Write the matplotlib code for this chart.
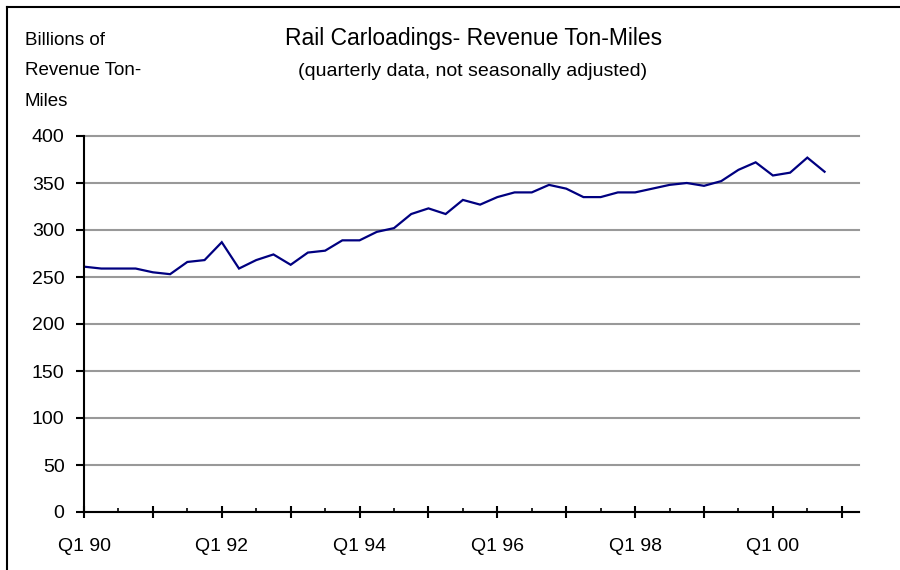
import matplotlib.pyplot as plt
from matplotlib.lines import Line2D
from matplotlib.ticker import FixedLocator

# quarterly revenue ton-miles, Q1 1990 .. Q4 2000 (billions)
values = [261, 259, 259, 259, 255, 253, 266, 268, 287, 259, 268, 274,
          263, 276, 278, 289, 289, 298, 302, 317, 323, 317, 332, 327,
          335, 340, 340, 348, 344, 335, 335, 340, 340, 344, 348, 350,
          347, 352, 364, 372, 358, 361, 377, 362]
tick_labels = ["Q1 90", "Q1 92", "Q1 94", "Q1 96", "Q1 98", "Q1 00"]

plt.rcParams['font.family'] = ['Liberation Sans', 'DejaVu Sans']

fig = plt.figure(figsize=(9, 5.7), dpi=100)
ax = fig.add_axes([84 / 900, 58 / 570, 775 / 900, 376 / 570])

x = list(range(len(values)))
ax.plot(x, values, color="#000080", lw=1.6, solid_joinstyle="miter")

ax.set_xlim(0, 45)
ax.set_ylim(0, 400)
ax.set_yticks(range(0, 401, 50))
ax.tick_params(axis="y", direction="out", length=6, width=1.5, labelsize=14, pad=8)
ax.yaxis.grid(True, color="#999999", lw=1.5)
for g in ax.get_ygridlines():
    g.set_clip_on(False)
ax.set_axisbelow(True)

ax.xaxis.set_major_locator(FixedLocator(range(0, 45, 4)))
ax.xaxis.set_minor_locator(FixedLocator(range(2, 45, 4)))
ax.set_xticks(range(0, 45, 4))
ax.set_xticklabels([tick_labels[i // 2] if i % 2 == 0 else "" for i in range(12)])
ax.tick_params(axis="x", which="major", direction="inout", length=9, width=1.5,
               labelsize=14, pad=14)
ax.tick_params(axis="x", which="minor", direction="in", length=3, width=1.2)

for s in ["top", "right"]:
    ax.spines[s].set_visible(False)
for s in ["left", "bottom"]:
    ax.spines[s].set_linewidth(1.5)

fig.text(474 / 900, 1 - 38 / 570, "Rail Carloadings- Revenue Ton-Miles",
         ha="center", va="center", fontsize=16.5)
fig.text(473 / 900, 1 - 72 / 570, "(quarterly data, not seasonally adjusted)",
         ha="center", va="center", fontsize=14)
fig.text(25 / 900, 1 - 71 / 570, "Billions of\nRevenue Ton-\nMiles",
         ha="left", va="center", fontsize=13.5, linespacing=2.05)

# outer frame (top and left edges visible)
fig.add_artist(Line2D([7 / 900, 1], [1 - 7 / 570, 1 - 7 / 570], color="black", lw=1.5))
fig.add_artist(Line2D([7 / 900, 7 / 900], [0, 1 - 7 / 570], color="black", lw=1.5))

fig.savefig("out.png", dpi=100)
